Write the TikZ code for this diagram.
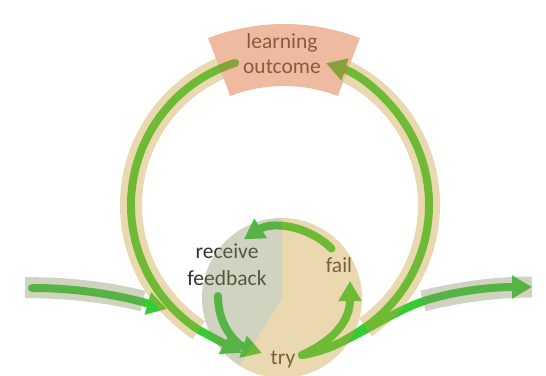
\documentclass[tikz,border=0pt]{standalone}
\usepackage{fontspec}
\setmainfont{Carlito}
\usetikzlibrary{arrows.meta}
\definecolor{gline}{RGB}{51,204,51}
\definecolor{tanT}{RGB}{202,160,57}
\definecolor{grayT}{RGB}{137,145,97}
\definecolor{salT}{RGB}{221,119,65}
\definecolor{txtbrown}{RGB}{140,90,58}
\definecolor{txtolive}{RGB}{122,95,54}
\definecolor{txtdark}{RGB}{50,50,45}
\tikzset{
  gl/.style={draw=gline, line width=8pt, line cap=round},
  tipend/.style={-{Triangle[length=20pt,width=22pt]}},
  tanov/.style={fill=tanT, fill opacity=0.4},
  grayov/.style={fill=grayT, fill opacity=0.4},
  bandtan/.style={draw=tanT, draw opacity=0.4, line width=22pt},
  bandgray/.style={draw=grayT, draw opacity=0.4, line width=21pt},
  lbl/.style={font=\fontsize{21.5}{26}\selectfont, anchor=base, inner sep=0pt}
}
\begin{document}
\begin{tikzpicture}[x=1pt,y=-1pt]
\useasboundingbox (0,0) rectangle (546,375);
\coordinate (C) at (280,205);   % big ring centre
\coordinate (L) at (284,236);   % label sector centre
\coordinate (S) at (282,298);   % small circle centre
\coordinate (tryR) at (302,355);
\coordinate (fbS) at (218,296);
\coordinate (inS) at (32,288);
\coordinate (inE) at (167,309);
\coordinate (outE) at (532,287);
\coordinate (tryL) at (242,353);
\coordinate (tryM) at (262,353);
\coordinate (failT) at (350,281);

% text under the translucent circle
\node[lbl, text=txtdark] (receive) at (227,258) {receive};
\node[lbl, text=txtdark] (feedback) at (227,285) {feedback};

% green connectors
\draw[gl, tipend] (inS) .. controls (80,288) and (122,296) .. (inE);
\draw[gl, tipend] ([shift={(-107.5:149)}]C) arc[start angle=-107.5, end angle=-237, radius=149] -- (tryL);
\draw[gl, tipend] (tryR) .. controls (330,350) and (342,342) .. ([shift={(58:149)}]C) arc[start angle=58, end angle=-72, radius=149];
\draw[gl, tipend] (tryR) .. controls (345,348) and (385,314) .. (424,301) .. controls (458,290) and (495,287) .. (outE);
\draw[gl, tipend] ([shift={(-45:70)}]S) arc[start angle=-45, end angle=-123, radius=70];
\draw[gl, tipend] (tryR) .. controls (335,340) and (350,320) .. (failT);
\draw[gl, tipend] (fbS) .. controls (218,328) and (238,345) .. (tryM);

% translucent overlays
\begin{scope}[even odd rule]
  \clip (-5,-5) rectangle (551,380)
    ([shift={(-69:212)}]L) arc[start angle=-69, end angle=-111, radius=212]
    -- ([shift={(-111:150)}]L) arc[start angle=-111, end angle=-69, radius=150] -- cycle;
  \draw[bandtan] ([shift={(55:149)}]C) arc[start angle=55, end angle=-237, radius=149];
\end{scope}
\path[grayov] (S) -- ([shift={(-90:80)}]S) arc[start angle=-90, end angle=-238, radius=80] -- cycle;
\path[tanov] (S) -- ([shift={(-238:80)}]S) arc[start angle=-238, end angle=-450, radius=80] -- cycle;
\draw[bandgray] (25,287.5) .. controls (75,288) and (110,293) .. (143,301);
\draw[bandgray] (423,301) .. controls (450,294) and (490,287) .. (532,287);
\path[fill=salT, fill opacity=0.5] ([shift={(-69:212)}]L) arc[start angle=-69, end angle=-111, radius=212]
    -- ([shift={(-111:150)}]L) arc[start angle=-111, end angle=-69, radius=150] -- cycle;

% text on top
\node[lbl, text=txtbrown] (learning) at (282,48) {learning};
\node[lbl, text=txtbrown] (outcome) at (282,73) {outcome};
\node[lbl, text=txtolive] (fail) at (339,272) {fail};
\node[lbl, text=txtolive] (try) at (283,364) {try};
\end{tikzpicture}
\end{document}
